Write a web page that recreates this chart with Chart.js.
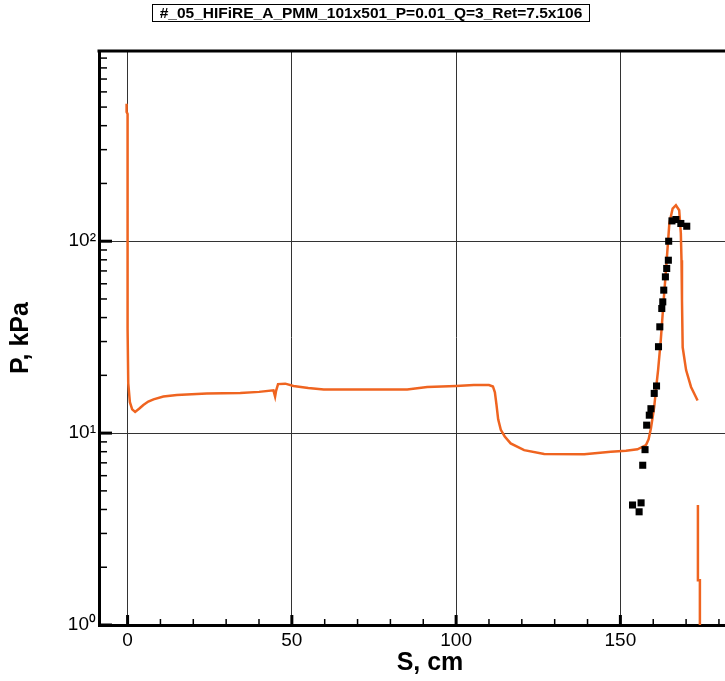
<!DOCTYPE html>
<html>
<head>
<meta charset="utf-8">
<script src="https://cdn.jsdelivr.net/npm/chart.js@4.4.0/dist/chart.umd.min.js"></script>
<style>
  html, body { margin: 0; padding: 0; background: #fff; overflow: hidden; }
  #wrap { position: relative; width: 766px; height: 681px; }
  #caseTitle {
    position: absolute; left: 152px; top: 4px; width: 436px; height: 16px;
    border: 1px solid #000; font: bold 15.5px Arial, "Liberation Sans", sans-serif;
    line-height: 16px; text-align: center; white-space: nowrap; color: #000;
  }
</style>
</head>
<body>
<div id="wrap">
  <div id="caseTitle">#_05_HIFiRE_A_PMM_101x501_P=0.01_Q=3_Ret=7.5x106</div>
  <canvas id="chart"></canvas>
</div>
<script>
// computed wall pressure along the surface
const sCurve = [-0.3, -0.3, 0, 0, 0.2, 0.7, 1.4, 2.3, 3.5, 4.8, 6.3, 7.9, 10.9, 15, 24.1, 34.3, 40,
  44.4, 44.9, 45.2, 45.8, 48, 50.5, 55, 59.7, 85.1, 91.2, 100, 105.4, 110,
  111.2, 111.8, 112.3, 112.8, 113.6, 114.8, 116.6, 120.7, 126.8, 139, 147.1, 151.7, 155.2, 157.8,
  158.6, 159.3, 160.3, 160.8, 161.5, 162.3, 163.2, 163.8, 164.9, 165.9, 166.9, 167.9,
  168.4, 168.6, 168.75, 168.96, 170.0, 171.5, 173.5];
const pCurve = [521, 472, 460, 35, 18.2, 14.5, 13.3, 12.9, 13.4, 14.0, 14.6, 15.0, 15.5, 15.8, 16.1, 16.2, 16.4,
  16.7, 15.5, 16.6, 18.0, 18.1, 17.6, 17.2, 16.9, 16.9, 17.4, 17.6, 17.8, 17.8,
  17.5, 16.3, 14.0, 11.8, 10.4, 9.6, 8.84, 8.15, 7.78, 7.76, 7.99, 8.1, 8.23, 8.66,
  9.3, 10.6, 13.7, 16.7, 21.5, 30.6, 50, 67.8, 123.6, 148, 154, 145,
  110, 79.6, 49.3, 28.0, 21.3, 17.4, 14.8];

// trailing segment at the end of the body
const sTail = [173.6, 173.6, 174.2, 174.2];
const pTail = [4.22, 1.71, 1.71, 0.5];

// measured pressure
const sExp = [165.7, 166.9, 168.4, 170.2, 164.7, 164.6, 164.1, 163.7, 163.2, 162.9, 162.6, 162.0,
  161.6, 161.0, 160.3, 159.3, 158.8, 158.0, 157.5, 156.8, 156.3, 153.7, 155.7];
const pExp = [127.6, 129.7, 123.7, 119.7, 100, 79.6, 72.1, 65.2, 55.6, 48.3, 44.6, 35.8,
  28.2, 17.6, 16.1, 13.4, 12.4, 11.0, 8.2, 6.8, 4.33, 4.22, 3.89];

const xTicks = [0, 10, 20, 30, 40, 50, 60, 70, 80, 90, 100, 110, 120, 130, 140, 150, 160, 170, 180, 190];
const xLabels = [0, 50, 100, 150];
const yLabels = { 1: "10\u2070", 10: "10\u00b9", 100: "10\u00b2" };

const ORANGE = "#EF6420";
const FONT = 'Arial, "Liberation Sans", sans-serif';
const pts = (xs, ys) => xs.map((x, i) => ({ x, y: ys[i] }));

const isDecadeStep = v => {
  const m = v / Math.pow(10, Math.floor(Math.log10(v) + 1e-9));
  return Math.abs(m - Math.round(m)) < 1e-6;
};

// top frame line and inward tick marks
const frameTicks = {
  id: "frameTicks",
  afterDraw(chart) {
    const { ctx, chartArea: a, scales: { x, y } } = chart;
    ctx.save();
    ctx.strokeStyle = "#000";
    ctx.lineWidth = 3;
    ctx.beginPath(); ctx.moveTo(a.left - 1.5, a.top); ctx.lineTo(a.right, a.top); ctx.stroke();
    x.ticks.forEach(t => {
      const px = x.getPixelForValue(t.value);
      const major = xLabels.includes(t.value);
      ctx.lineWidth = major ? 3 : 1.5;
      ctx.beginPath(); ctx.moveTo(px, a.bottom); ctx.lineTo(px, a.bottom - (major ? 10 : 6)); ctx.stroke();
    });
    y.ticks.forEach(t => {
      if (!isDecadeStep(t.value)) return;
      const py = y.getPixelForValue(t.value);
      const major = yLabels[t.value] !== undefined;
      ctx.lineWidth = major ? 3 : 1.5;
      ctx.beginPath(); ctx.moveTo(a.left, py); ctx.lineTo(a.left + (major ? 13 : 8), py); ctx.stroke();
    });
    ctx.restore();
  }
};

new Chart(document.getElementById("chart"), {
  type: "line",
  data: {
    datasets: [
      { data: pts(sExp, pExp), showLine: false, pointStyle: "rect", pointRadius: 5, pointBackgroundColor: "#000", pointBorderWidth: 0, order: 0 },
      { data: pts(sCurve, pCurve), borderColor: ORANGE, borderWidth: 2.5, pointRadius: 0, tension: 0, order: 1 },
      { data: pts(sTail, pTail), borderColor: ORANGE, borderWidth: 2.5, pointRadius: 0, tension: 0, order: 1 }
    ]
  },
  options: {
    responsive: true,
    maintainAspectRatio: false,
    animation: false,
    layout: { padding: { top: 51, right: 0, left: 0, bottom: 0 } },
    plugins: { legend: { display: false }, tooltip: { enabled: false } },
    scales: {
      x: {
        type: "linear", min: -8.7, max: 192.8,
        afterBuildTicks: s => { s.ticks = xTicks.map(v => ({ value: v })); },
        afterFit: s => { s.height = 56; },
        ticks: {
          autoSkip: false, maxRotation: 0, padding: 4, color: "#000",
          font: { family: FONT, size: 19 },
          callback: v => xLabels.includes(v) ? String(v) : ""
        },
        grid: { drawTicks: false, lineWidth: 1, color: c => (c.tick && xLabels.includes(c.tick.value)) ? "#333" : "rgba(0,0,0,0)" },
        border: { display: true, width: 3, color: "#000" },
        title: { display: true, text: "S, cm", color: "#000", font: { family: FONT, size: 25, weight: "bold" }, padding: { top: 0, bottom: 3 } }
      },
      y: {
        type: "logarithmic", min: 1, max: 980,
        afterFit: s => { s.width = 99; },
        ticks: {
          autoSkip: false, padding: 3, color: "#000",
          font: { family: FONT, size: 19 },
          callback: v => yLabels[v] || ""
        },
        grid: { drawTicks: false, lineWidth: 1, color: c => (c.tick && (c.tick.value === 10 || c.tick.value === 100)) ? "#333" : "rgba(0,0,0,0)" },
        border: { display: true, width: 3, color: "#000" },
        title: { display: true, text: "P, kPa", color: "#000", font: { family: FONT, size: 25, weight: "bold" }, padding: { top: 6, bottom: 0 } }
      }
    }
  },
  plugins: [frameTicks]
});
</script>
</body>
</html>
